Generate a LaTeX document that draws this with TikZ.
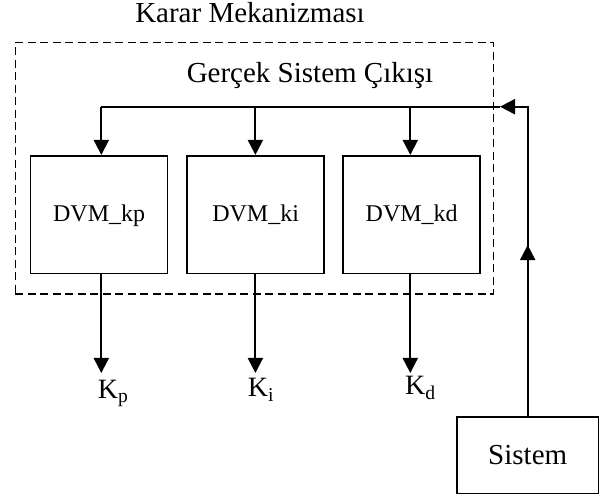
\documentclass[tikz,border=0pt]{standalone}
\usepackage{fontspec}
\setmainfont{Liberation Serif}
\usetikzlibrary{arrows.meta}
\begin{document}
\begin{tikzpicture}[x=1pt,y=-1pt,
  lbl/.style={font=\fontsize{29}{34}\selectfont, inner sep=0pt},
  klbl/.style={font=\fontsize{28}{33}\selectfont, inner sep=0pt, anchor=base west},
  dvm/.style={draw, line width=1.6pt, minimum width=137pt, minimum height=117.6pt, inner sep=0pt,
    font=\fontsize{24}{28}\selectfont, text height=16pt, text depth=1.5pt},
  sysbox/.style={draw, line width=1.6pt, minimum width=141.5pt, minimum height=76.6pt, inner sep=0pt,
    font=\fontsize{29}{34}\selectfont},
  conn/.style={line width=2pt, -{Triangle[length=15pt,width=15pt]}},
  wire/.style={line width=2pt},
  grp/.style={draw, line width=1.5pt, dash pattern=on 8pt off 4.5pt, inner sep=0pt}
]
\useasboundingbox (0,0) rectangle (600,495);
% group
\node[grp, minimum width=478pt, minimum height=251.7pt] (grp) at (254.3,168.2) {};
\node[lbl, anchor=base] (title) at (250,22.7) {Karar Mekanizması};
\node[lbl, anchor=base] (gss) at (310,83) {Gerçek Sistem Çıkışı};
% boxes
\node[dvm] (kp) at (99.1,214.5) {DVM\_kp};
\node[dvm] (ki) at (255.6,214.5) {DVM\_ki};
\node[dvm] (kd) at (411.7,214.5) {DVM\_kd};
\node[sysbox] (sis) at (527.7,455) {Sistem};
% labels
\node[klbl] (kpl) at (97.7,398.3) {K\textsubscript{p}};
\node[klbl] (kil) at (247.7,396.7) {K\textsubscript{i}};
\node[klbl] (kdl) at (405,394.3) {K\textsubscript{d}};
% coordinates
\coordinate (j1) at (101.3,106.7);
\coordinate (j2) at (255.4,106.7);
\coordinate (j3) at (410.3,106.7);
\coordinate (jin) at (500,106.7);
\coordinate (corner) at (527.7,106.7);
\coordinate (up) at (527.7,245);
% feedback
\draw[wire] (j1) -- (jin);
\draw[conn] (sis.north) -- (up);
\draw[conn] (sis.north) -- (corner) -- (jin);
% down into boxes
\draw[conn] (j1) -- (j1 |- kp.north);
\draw[conn] (j2) -- (j2 |- ki.north);
\draw[conn] (j3) -- (j3 |- kd.north);
% outputs
\draw[conn, shorten >=6.8pt] (kp.south -| j1) -- (j1 |- kpl.north);
\draw[conn, shorten >=5.2pt] (ki.south -| j2) -- (j2 |- kil.north);
\draw[conn, shorten >=2.8pt] (kd.south -| j3) -- (j3 |- kdl.north);
\end{tikzpicture}
\end{document}
